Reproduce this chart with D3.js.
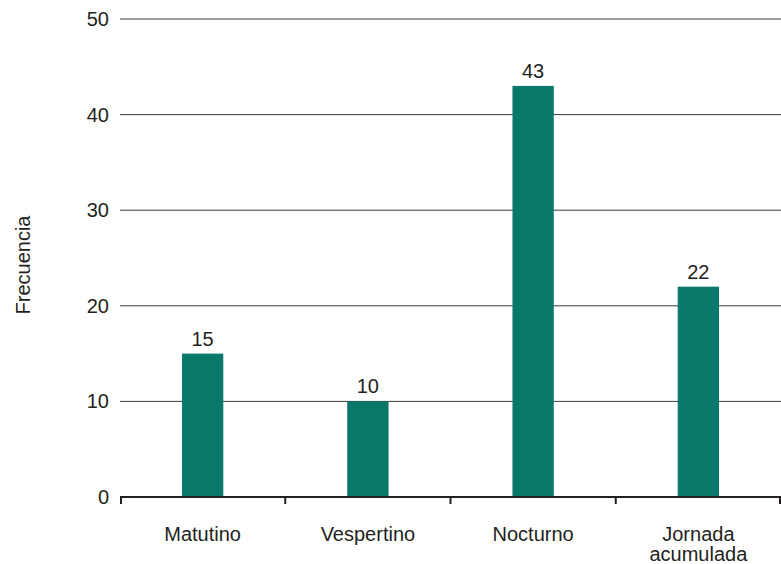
<!DOCTYPE html>
<html>
<head>
<meta charset="utf-8">
<script src="https://cdn.jsdelivr.net/npm/d3@7"></script>
<style>
  body { margin: 0; background: #fff; }
  text { font-family: "Liberation Sans", Arial, sans-serif; fill: #231f20; }
</style>
</head>
<body>
<script>
// data
var categories = ["Matutino", "Vespertino", "Nocturno", "Jornada acumulada"];
var labelLines = [["Matutino"], ["Vespertino"], ["Nocturno"], ["Jornada", "acumulada"]];
var values = [15, 10, 43, 22];
var yTicks = [0, 10, 20, 30, 40, 50];

var W = 781, H = 564;
var margin = {top: 19, right: 0, bottom: 67, left: 120};
var width = W - margin.left - margin.right,
    height = H - margin.top - margin.bottom;

var svg = d3.select("body").append("svg")
    .attr("width", W)
    .attr("height", H);

var g = svg.append("g")
    .attr("transform", "translate(" + margin.left + "," + margin.top + ")");

var x = d3.scaleBand().domain(categories).range([0, width]).paddingInner(0.75).paddingOuter(0.375);
var xb = d3.scaleBand().domain(categories).range([0, width]); // tick boundaries
var y = d3.scaleLinear().domain([0, 50]).range([height, 0]);

// gridlines
g.selectAll(".grid")
    .data(yTicks.filter(function(d) { return d > 0; }))
    .enter().append("line")
    .attr("x1", 0).attr("x2", width)
    .attr("y1", function(d) { return y(d); })
    .attr("y2", function(d) { return y(d); })
    .attr("stroke", "#3a3a3a")
    .attr("stroke-width", 1);

// y tick labels
g.selectAll(".ylab")
    .data(yTicks)
    .enter().append("text")
    .attr("x", -11)
    .attr("y", function(d) { return y(d); })
    .attr("dy", "0.35em")
    .attr("text-anchor", "end")
    .style("font-size", "20px")
    .text(function(d) { return d; });

// bars
g.selectAll(".bar")
    .data(values)
    .enter().append("rect")
    .attr("x", function(d, i) { return x(categories[i]); })
    .attr("y", function(d) { return y(d); })
    .attr("width", x.bandwidth())
    .attr("height", function(d) { return height - y(d); })
    .attr("fill", "#07786a");

// value labels
g.selectAll(".val")
    .data(values)
    .enter().append("text")
    .attr("x", function(d, i) { return x(categories[i]) + x.bandwidth() / 2; })
    .attr("y", function(d) { return y(d) - 8; })
    .attr("text-anchor", "middle")
    .style("font-size", "20px")
    .text(function(d) { return d; });

// x axis line and ticks
g.append("line")
    .attr("x1", 0).attr("x2", width)
    .attr("y1", height).attr("y2", height)
    .attr("stroke", "#231f20")
    .attr("stroke-width", 2.2);

var bounds = categories.map(function(c) { return xb(c); }).concat([width]);
g.selectAll(".xtick")
    .data(bounds)
    .enter().append("line")
    .attr("x1", function(d) { return Math.min(Math.max(d, 1), width - 1); })
    .attr("x2", function(d) { return Math.min(Math.max(d, 1), width - 1); })
    .attr("y1", height).attr("y2", height + 7)
    .attr("stroke", "#231f20")
    .attr("stroke-width", 2);

// x labels
var xl = g.selectAll(".xlab")
    .data(labelLines)
    .enter().append("text")
    .attr("text-anchor", "middle")
    .attr("transform", function(d, i) {
        return "translate(" + (xb(categories[i]) + xb.bandwidth() / 2) + "," + (height + 44) + ")";
    })
    .style("font-size", "20px");
xl.selectAll("tspan")
    .data(function(d) { return d; })
    .enter().append("tspan")
    .attr("x", 0)
    .attr("dy", function(d, i) { return i === 0 ? 0 : 20; })
    .text(function(d) { return d; });

// y axis title
svg.append("text")
    .attr("transform", "translate(30," + 265 + ") rotate(-90)")
    .attr("text-anchor", "middle")
    .style("font-size", "20px")
    .text("Frecuencia");
</script>
</body>
</html>
